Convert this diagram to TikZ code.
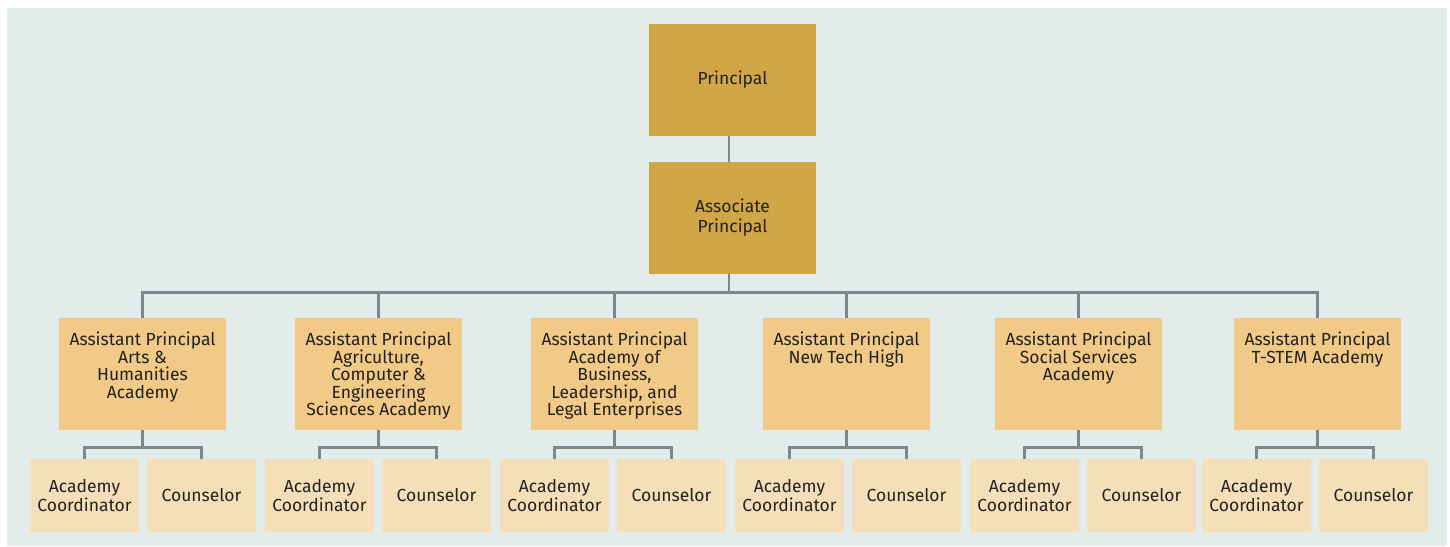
\documentclass[tikz,border=0pt]{standalone}
\usepackage{fontspec}
\setmainfont{Fira Sans}
\definecolor{bgcol}{HTML}{E2ECEA}
\definecolor{topcol}{HTML}{D2A547}
\definecolor{apcol}{HTML}{F0CA86}
\definecolor{subcol}{HTML}{F5DFB9}
\definecolor{linecol}{HTML}{80878A}
\definecolor{txtcol}{HTML}{222222}
\begin{document}
\begin{tikzpicture}[x=1pt,y=-1pt,
  every node/.style={inner sep=0pt, outer sep=0pt, text=txtcol},
  topbox/.style={fill=topcol, minimum width=167pt, minimum height=112pt,
    align=center, font=\fontsize{17.5}{20}\selectfont},
  apbox/.style={fill=apcol, minimum width=167pt, minimum height=112pt},
  aptext/.style={anchor=north, align=center, font=\fontsize{17.5}{17.5}\selectfont},
  subbox/.style={fill=subcol, minimum width=109pt, minimum height=73pt,
    align=center, font=\fontsize{17.5}{17}\selectfont},
  link/.style={draw=linecol, line width=2.2pt, line join=miter}]

% canvas
\useasboundingbox (0,0) rectangle (1450,546);
\fill[bgcol] (7,8) rectangle (1447,546);

% leadership
\node[topbox] (princ) at (732.5,80) {Principal};
\node[topbox] (assoc) at (732.5,218) {Associate\\Principal};

% assistant principals
\foreach \n/\x in {1/142.5,2/378.5,3/614.5,4/846.5,5/1078.5,6/1317.5}
  \node[apbox] (ap\n) at (\x,374) {};

\node[aptext] (ap1t) at ([yshift=-14pt]ap1.north) {Assistant Principal\\Arts \&\\Humanities\\Academy};
\node[aptext] (ap2t) at ([yshift=-14pt]ap2.north) {Assistant Principal\\Agriculture,\\Computer \&\\Engineering\\Sciences Academy};
\node[aptext] (ap3t) at ([yshift=-14pt]ap3.north) {Assistant Principal\\Academy of\\Business,\\Leadership, and\\Legal Enterprises};
\node[aptext] (ap4t) at ([yshift=-14pt]ap4.north) {Assistant Principal\\New Tech High};
\node[aptext] (ap5t) at ([yshift=-14pt]ap5.north) {Assistant Principal\\Social Services\\Academy};
\node[aptext] (ap6t) at ([yshift=-14pt]ap6.north) {Assistant Principal\\T-STEM Academy};

% coordinators and counselors
\foreach \n/\x in {1/84.5,2/319.5,3/554.5,4/789.5,5/1024.5,6/1256.5}
  \node[subbox] (ac\n) at (\x,495.5) {Academy\\Coordinator};
\foreach \n/\x in {1/201.5,2/436.5,3/671.5,4/906.5,5/1141.5,6/1373.5}
  \node[subbox] (co\n) at (\x,495.5) {Counselor};

% connectors (the top spine runs slightly left of the box centres)
\draw[link] ([xshift=-3.5pt]princ.south) -- ([xshift=-3.5pt]assoc.north);
\foreach \n in {1,...,6}
  \draw[link] ([xshift=-3.5pt]assoc.south) -- ++(0,18.5) -| (ap\n.north);
\foreach \n in {1,...,6} {
  \draw[link] (ap\n.south) -- ++(0,17.5) -| (ac\n.north);
  \draw[link] (ap\n.south) -- ++(0,17.5) -| (co\n.north);
}
\end{tikzpicture}
\end{document}
